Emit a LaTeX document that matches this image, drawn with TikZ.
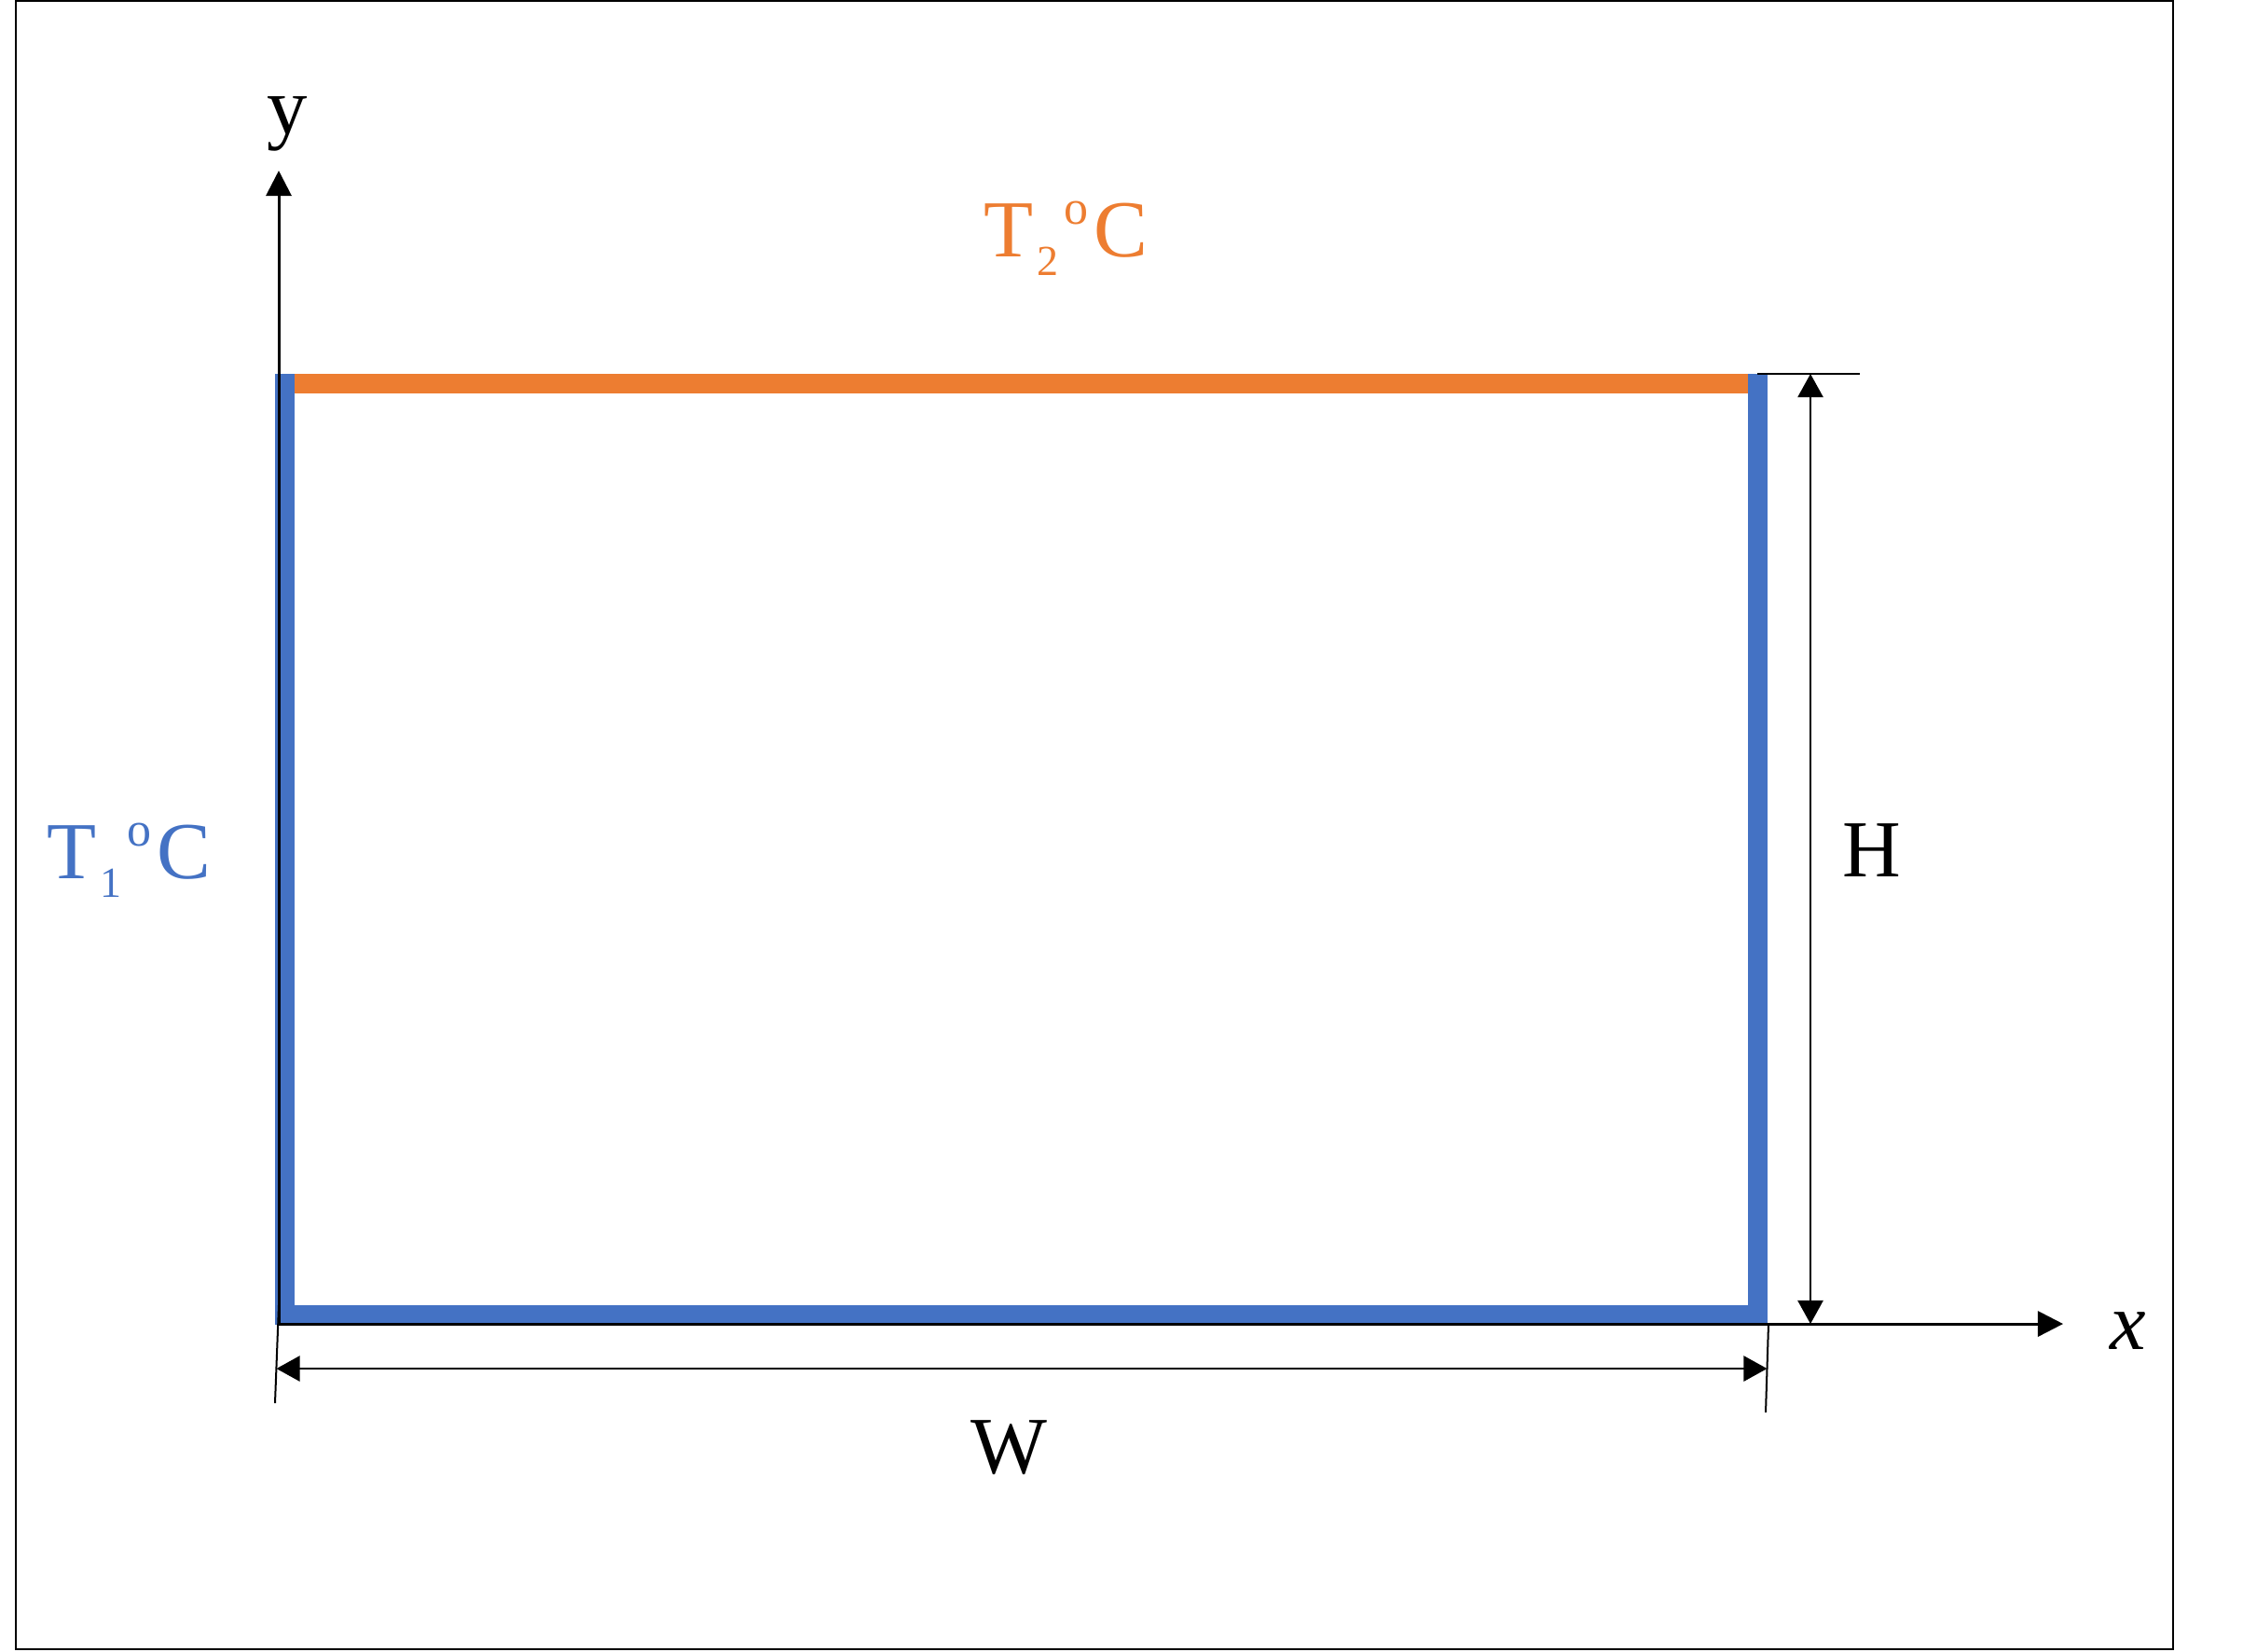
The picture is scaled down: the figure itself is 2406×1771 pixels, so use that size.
\documentclass[tikz,border=0pt]{standalone}
\usepackage{fontspec}
\setmainfont{Liberation Serif}
\usetikzlibrary{arrows.meta}
\definecolor{wallblue}{RGB}{68,114,196}
\definecolor{walloran}{RGB}{237,125,49}
\newcommand{\tempsym}[1]{T\kern1pt\raisebox{-5pt}{\fontsize{11.5}{11.5}\selectfont #1}\kern1.5pt\raisebox{8.6pt}{\fontsize{13}{13}\selectfont o}\kern1.5pt C}
\begin{document}
\begin{tikzpicture}[x=0.25pt,y=-0.25pt,
  wall/.style={line width=5.25pt},
  axis/.style={line width=0.75pt,-{Triangle[width=6.8pt,length=6.8pt]}},
  dim/.style={line width=0.6pt,{Triangle[width=6.8pt,length=6.3pt]}-{Triangle[width=6.8pt,length=6.3pt]}},
  ext/.style={line width=0.5pt},
  lbl/.style={font=\fontsize{21.7}{26}\selectfont,inner sep=0pt}]
\useasboundingbox (0,0) rectangle (2406,1771);
\draw[line width=0.5pt] (17,1) rectangle (2331,1769);
% corners
\coordinate (TL) at (305.5,411);
\coordinate (TR) at (1885.5,411);
\coordinate (BL) at (305.5,1410);
\coordinate (BR) at (1885.5,1410);
% walls
\draw[wall,walloran] (316,411) -- (1875,411);
\draw[wall,wallblue] (305.5,401) -- (BL) -- (BR) -- (1885.5,401);
% axes
\coordinate (O) at (299,1420);
\coordinate (Ytip) at (299,183);
\coordinate (Xtip) at (2213,1420);
\draw[axis] (O) -- (Ytip);
\draw[axis] (O) -- (Xtip);
\node[lbl,anchor=base] (ylab) at (308,143) {y};
\node[lbl,anchor=base] (xlab) at (2283,1447) {\itshape x};
% H dimension
\coordinate (Htop) at (1942,401);
\coordinate (Hbot) at (1942,1420);
\draw[ext] (1885,401) -- (1995,401);
\draw[dim] (Htop) -- (Hbot);
\node[lbl,anchor=base] (H) at (2008,940) {H};
% W dimension
\coordinate (Wl) at (296.5,1468);
\coordinate (Wr) at (1895.5,1468);
\draw[ext] (299,1400) -- (295,1505);
\draw[ext] (1897,1420) -- (1894,1515);
\draw[dim] (Wl) -- (Wr);
\node[lbl,anchor=base] (W) at (1082,1580) {W};
% temperatures
\node[lbl,anchor=base west,text=walloran] (T2) at (1055,275) {\tempsym{2}};
\node[lbl,anchor=base west,text=wallblue] (T1) at (50,942) {\tempsym{1}};
\end{tikzpicture}
\end{document}
